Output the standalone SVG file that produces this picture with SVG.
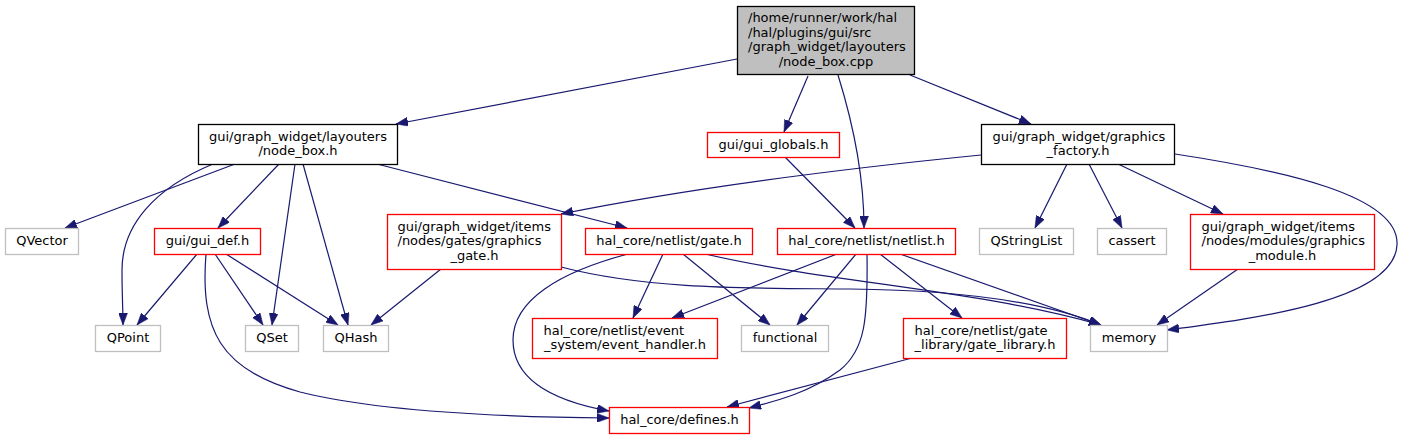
<svg xmlns="http://www.w3.org/2000/svg" width="1403" height="439" viewBox="0 0 1403 439">
<style>
.n rect{fill:#ffffff;stroke-width:1.3}
.blk rect{stroke:#000000}
.red rect{stroke:#ff0000}
.gry rect{stroke:#bfbfbf}
.root rect{fill:#bfbfbf;stroke:#000000}
text{font-family:"DejaVu Sans","Liberation Sans",sans-serif;font-size:13px;fill:#000000}
.c{text-anchor:middle}
#edges path{fill:none;stroke:#191970;stroke-width:1.2;marker-end:url(#ah)}
</style>
<defs>
<marker id="ah" viewBox="0 0 12 9" refX="12" refY="4.5" markerWidth="12" markerHeight="9" markerUnits="userSpaceOnUse" orient="auto">
<path d="M0,0 L12,4.5 L0,9 z" fill="#191970" stroke="#191970" stroke-width="0.5"/>
</marker>
</defs>
<rect x="0" y="0" width="1403" height="439" fill="#ffffff"/>
<g id="edges">
<path d="M737,59 L396,124"/>
<path d="M808,76 L784,132"/>
<path d="M838,75 C852,120 864,175 864,228"/>
<path d="M910,75 L1031,124"/>
<path d="M785,157 L855,228"/>
<path d="M981,155 C850,168 690,188 561,214"/>
<path d="M1067,164 L1035,228"/>
<path d="M1089,164 L1122,228"/>
<path d="M1118,164 L1223,214"/>
<path d="M1175,154 C1280,170 1400,195 1397,245 C1394,300 1260,318 1167,330"/>
<path d="M1238,269 L1157,325"/>
<path d="M441,269 L371,325"/>
<path d="M561,267 C650,290 750,288 850,289 C950,290 1040,300 1101,325"/>
<path d="M235,164 L65,228"/>
<path d="M213,164 C155,188 122,225 122,270 C122,295 123,310 123,325"/>
<path d="M279,164 L218,228"/>
<path d="M295,164 L272,325"/>
<path d="M303,164 L348,325"/>
<path d="M377,164 L627,228"/>
<path d="M197,254 L137,325"/>
<path d="M215,254 L263,325"/>
<path d="M226,254 L338,325"/>
<path d="M206,254 C200,330 220,370 300,392 C380,412 500,417 609,418"/>
<path d="M663,254 L633,318"/>
<path d="M683,254 L770,325"/>
<path d="M628,254 C560,272 513,300 513,340 C513,385 565,403 609,411"/>
<path d="M705,254 C830,283 980,290 1101,325"/>
<path d="M837,254 L672,318"/>
<path d="M856,254 L797,325"/>
<path d="M867,254 C868,320 865,350 840,370 C810,392 780,400 749,408"/>
<path d="M880,254 L962,318"/>
<path d="M900,254 L1101,325"/>
<path d="M912,358 L727,407"/>
</g>
<g id="node_root" class="n root">
<rect x="737.5" y="6.5" width="177" height="68"/>
<text x="748" y="22.25">/home/runner/work/hal</text>
<text x="748" y="36.75">/hal/plugins/gui/src</text>
<text x="748" y="51.25">/graph_widget/layouters</text>
<text x="826" y="65.75" class="c">/node_box.cpp</text>
</g>
<g id="node_node_box_h" class="n blk">
<rect x="198.5" y="124.5" width="199" height="40"/>
<text x="209" y="140.5">gui/graph_widget/layouters</text>
<text x="298" y="155" class="c">/node_box.h</text>
</g>
<g id="node_gui_globals" class="n red">
<rect x="707.5" y="132.5" width="132" height="25"/>
<text x="773.5" y="148.5" class="c">gui/gui_globals.h</text>
</g>
<g id="node_graphics_factory" class="n blk">
<rect x="981.5" y="124.5" width="193" height="40"/>
<text x="992.5" y="140.5">gui/graph_widget/graphics</text>
<text x="1078" y="155" class="c">_factory.h</text>
</g>
<g id="node_qvector" class="n gry">
<rect x="5.5" y="228.5" width="73" height="26"/>
<text x="42" y="245" class="c">QVector</text>
</g>
<g id="node_gui_def" class="n red">
<rect x="154.5" y="228.5" width="106" height="26"/>
<text x="207.5" y="245" class="c">gui/gui_def.h</text>
</g>
<g id="node_graphics_gate" class="n red">
<rect x="387.5" y="214.5" width="174" height="55"/>
<text x="397.5" y="230.5">gui/graph_widget/items</text>
<text x="397.5" y="245">/nodes/gates/graphics</text>
<text x="474.5" y="259.5" class="c">_gate.h</text>
</g>
<g id="node_gate_h" class="n red">
<rect x="585.5" y="228.5" width="167" height="26"/>
<text x="669" y="245" class="c">hal_core/netlist/gate.h</text>
</g>
<g id="node_netlist_h" class="n red">
<rect x="777.5" y="228.5" width="178" height="26"/>
<text x="866.5" y="245" class="c">hal_core/netlist/netlist.h</text>
</g>
<g id="node_qstringlist" class="n gry">
<rect x="979.5" y="228.5" width="94" height="26"/>
<text x="1026.5" y="245" class="c">QStringList</text>
</g>
<g id="node_cassert" class="n gry">
<rect x="1097.5" y="228.5" width="69" height="26"/>
<text x="1132" y="245" class="c">cassert</text>
</g>
<g id="node_graphics_module" class="n red">
<rect x="1190.5" y="214.5" width="184" height="55"/>
<text x="1201.5" y="230.5">gui/graph_widget/items</text>
<text x="1201.5" y="245">/nodes/modules/graphics</text>
<text x="1282.5" y="259.5" class="c">_module.h</text>
</g>
<g id="node_qpoint" class="n gry">
<rect x="95.5" y="325.5" width="65" height="26"/>
<text x="128" y="342" class="c">QPoint</text>
</g>
<g id="node_qset" class="n gry">
<rect x="245.5" y="325.5" width="53" height="26"/>
<text x="272" y="342" class="c">QSet</text>
</g>
<g id="node_qhash" class="n gry">
<rect x="323.5" y="325.5" width="65" height="26"/>
<text x="356" y="342" class="c">QHash</text>
</g>
<g id="node_event_handler" class="n red">
<rect x="532.5" y="318.5" width="185" height="40"/>
<text x="543.5" y="334.5">hal_core/netlist/event</text>
<text x="625" y="349" class="c">_system/event_handler.h</text>
</g>
<g id="node_functional" class="n gry">
<rect x="741.5" y="325.5" width="87" height="26"/>
<text x="785" y="342" class="c">functional</text>
</g>
<g id="node_gate_library" class="n red">
<rect x="903.5" y="318.5" width="163" height="40"/>
<text x="914.5" y="334.5">hal_core/netlist/gate</text>
<text x="985" y="349" class="c">_library/gate_library.h</text>
</g>
<g id="node_memory" class="n gry">
<rect x="1090.5" y="325.5" width="77" height="26"/>
<text x="1129" y="342" class="c">memory</text>
</g>
<g id="node_defines" class="n red">
<rect x="609.5" y="407.5" width="140" height="26"/>
<text x="679.5" y="424" class="c">hal_core/defines.h</text>
</g>
</svg>
